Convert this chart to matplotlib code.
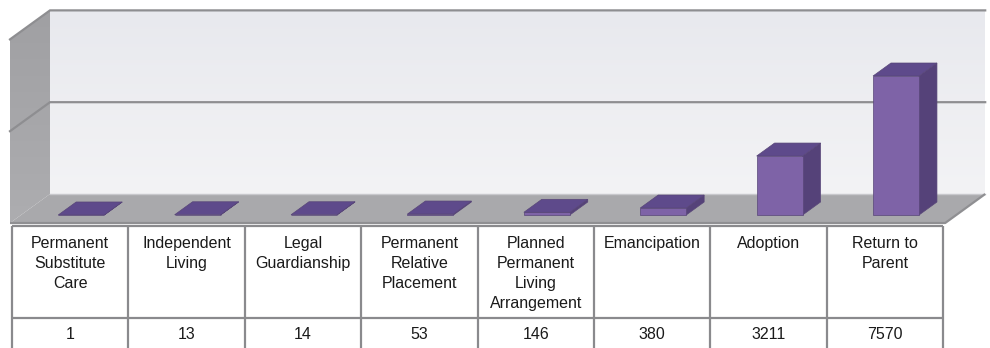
import numpy as np
import matplotlib
matplotlib.use("Agg")
import matplotlib.pyplot as plt
from matplotlib.patches import Polygon
from matplotlib.colors import LinearSegmentedColormap

plt.rcParams['font.family'] = ['Liberation Sans', 'DejaVu Sans']

# ---- data ----
categories = ["Permanent\nSubstitute\nCare", "Independent\nLiving", "Legal\nGuardianship",
              "Permanent\nRelative\nPlacement", "Planned\nPermanent\nLiving\nArrangement",
              "Emancipation", "Adoption", "Return to\nParent"]
values = [1, 13, 14, 53, 146, 380, 3211, 7570]
value_labels = [str(v) for v in values]
gridlines = [5000, 10000]
ymax = 10000

# ---- layout ----
W, H = 990, 348
fig = plt.figure(figsize=(W / 100, H / 100), dpi=100)
COLW = 116.4          # px per category
X0 = 12               # left pixel of table
U = 7570 / 139.0      # value units per pixel
BASE = 223            # pixel row of value 0 at floor front
CH = 226              # chart axes height in px

ax = fig.add_axes([0, 1 - CH / H, 1, CH / H])
ax.set_xlim(-0.5 - X0 / COLW, -0.5 + (W - X0) / COLW)
ax.set_ylim((BASE - CH) * U, BASE * U)
ax.axis('off')

DX = 40 / COLW
DY = 29 * U

def P(x, v, d):
    return (x + d * DX, v + d * DY)

xl = -0.5 - 2 / COLW
xr = len(values) - 0.5 + 2 / COLW

grad = np.linspace(0, 1, 256).reshape(-1, 1)

# back wall with gradient
back = Polygon([P(xl, 0, 1), P(xr, 0, 1), P(xr, ymax, 1), P(xl, ymax, 1)],
               closed=True, facecolor='none', edgecolor='none')
ax.add_patch(back)
cm_back = LinearSegmentedColormap.from_list('b', ['#f3f3f5', '#e8e9ee'])
x0b, y0b = P(xl, 0, 1); x1b, y1b = P(xr, ymax, 1)
im = ax.imshow(grad, extent=[x0b, x1b, y0b, y1b], origin='lower', aspect='auto',
               cmap=cm_back, zorder=1)
im.set_clip_path(back)

# side wall
side = Polygon([P(xl, 0, 0), P(xl, 0, 1), P(xl, ymax, 1), P(xl, ymax, 0)],
               closed=True, facecolor='none', edgecolor='none')
ax.add_patch(side)
cm_side = LinearSegmentedColormap.from_list('s', ['#adadb0', '#a0a0a3'])
sx0, sy0 = P(xl, 0, 0); sx1, sy1 = P(xl, ymax, 1)
im2 = ax.imshow(grad, extent=[sx0, sx1, sy0, sy1], origin='lower', aspect='auto',
                cmap=cm_side, zorder=1)
im2.set_clip_path(side)

# floor
floor = Polygon([P(xl, 0, 0), P(xr, 0, 0), P(xr, 0, 1), P(xl, 0, 1)],
                closed=True, facecolor='#a9a9ac', edgecolor='none', zorder=2)
ax.add_patch(floor)
fx = [P(xl, 0, 0)[0], P(xr, 0, 0)[0], P(xr, 0, 1)[0]]
fy = [P(xl, 0, 0)[1], P(xr, 0, 0)[1], P(xr, 0, 1)[1]]
ax.plot(fx, fy, color='#8f8f92', lw=1.6, zorder=2.5, solid_capstyle='butt')
bx = [P(xl, 0, 1)[0], P(xr, 0, 1)[0]]
by = [P(xl, 0, 1)[1], P(xr, 0, 1)[1]]
ax.plot(bx, by, color='#c8c8cc', lw=1.0, zorder=2.4)

# gridlines
for g in gridlines:
    pts = [P(xl, g, 0), P(xl, g, 1), P(xr, g, 1)]
    ax.plot([p[0] for p in pts], [p[1] for p in pts], color='#8e8e91', lw=1.6,
            zorder=3, solid_joinstyle='miter')

# bars
bw = 0.395 / 2
d0, d1 = 0.276, 0.724
front_c, side_c, top_c, edge_c = '#7e63a7', '#554279', '#5e4a8b', '#584678'
for i, v in enumerate(values):
    xa, xb = i - bw, i + bw
    front = [P(xa, 0, d0), P(xb, 0, d0), P(xb, v, d0), P(xa, v, d0)]
    rside = [P(xb, 0, d0), P(xb, 0, d1), P(xb, v, d1), P(xb, v, d0)]
    top = [P(xa, v, d0), P(xb, v, d0), P(xb, v, d1), P(xa, v, d1)]
    for poly, c in ((rside, side_c), (front, front_c), (top, top_c)):
        ax.add_patch(Polygon(poly, closed=True, facecolor=c, edgecolor=edge_c,
                             lw=0.5, zorder=4))

# ---- table ----
TT = 224
tax = fig.add_axes([0, 0, 1, (H - TT) / H])
tax.set_xlim(ax.get_xlim())
tax.set_ylim(H, TT)
tax.axis('off')
n = len(values)
lc = '#8a8a8d'
top_y, sep_y, bot_y = 225.5, 318, 349
tax.plot([-0.5, n - 0.5], [top_y, top_y], color=lc, lw=1.6, solid_capstyle='butt')
tax.plot([-0.5, n - 0.5], [sep_y, sep_y], color=lc, lw=1.6, solid_capstyle='butt')
for k in range(n + 1):
    tax.plot([k - 0.5, k - 0.5], [top_y, bot_y], color=lc, lw=1.6, solid_capstyle='butt')
for i, (lab, vl) in enumerate(zip(categories, value_labels)):
    tax.text(i, 235.5, lab, ha='center', va='top', fontsize=11.5, color='#1a1a1a',
             linespacing=1.42)
    tax.text(i, 334, vl, ha='center', va='center', fontsize=11.5, color='#1a1a1a')

fig.savefig('out.png', dpi=100)
